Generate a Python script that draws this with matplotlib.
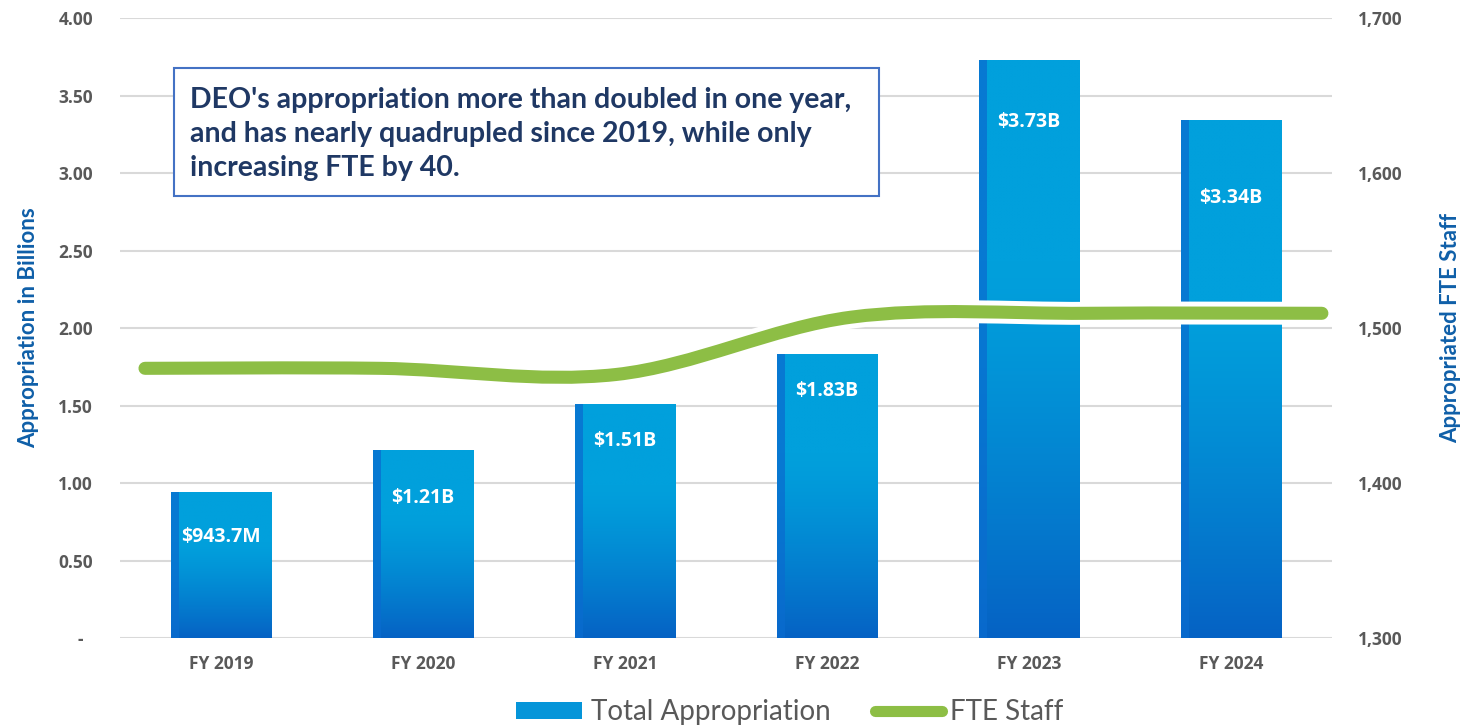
import matplotlib
matplotlib.use("Agg")
import matplotlib.pyplot as plt
import matplotlib.patheffects as pe
from matplotlib.path import Path
from matplotlib.patches import PathPatch, Patch, Rectangle
from matplotlib.lines import Line2D
from matplotlib.ticker import FuncFormatter, MultipleLocator
import numpy as np

years = ["FY 2019", "FY 2020", "FY 2021", "FY 2022", "FY 2023", "FY 2024"]
appropriation = [0.9437, 1.21, 1.51, 1.83, 3.73, 3.34]
bar_labels = ["$943.7M", "$1.21B", "$1.51B", "$1.83B", "$3.73B", "$3.34B"]
fte_staff = [1474, 1474, 1470, 1507, 1509.5, 1509.5]

GRAY = "#595959"
AXBLUE = "#0F5FA8"
GREEN = "#8DBE45"
NAVY = "#1F3864"

fig = plt.figure(figsize=(14.62, 7.27), dpi=100)
ax = fig.add_axes([0.0821, 0.1224, 0.8290, 0.8528])

X = np.arange(len(years))
width = 0.5

# gradient used to fill the bars (top light, bottom darker)
grad = np.linspace(0, 1, 256).reshape(-1, 1)
top_c = np.array([0x01, 0xA0, 0xDC]) / 255
bot_c = np.array([0x06, 0x62, 0xC4]) / 255
t = np.clip((grad - 0.35) / 0.65, 0, 1) ** 1.3
img = top_c * (1 - t)[..., None] + bot_c * t[..., None]
img = img.reshape(256, 1, 3)

bars = ax.bar(X, appropriation, width, color="none", zorder=2)
for b, v in zip(bars, appropriation):
    x0 = b.get_x()
    im = ax.imshow(img, extent=(x0, x0 + width, 0, v), aspect="auto",
                   origin="upper", zorder=2, interpolation="bilinear")
    im.set_clip_path(b)
    # darker left strip
    ax.add_patch(Rectangle((x0, 0), 0.04, v, facecolor="#0A6CCF",
                           edgecolor="none", alpha=0.75, zorder=2.1))

label_offsets = [45, 48, 37, 37, 62, 78]   # px below bar top
for xi, v, lab, off in zip(X, appropriation, bar_labels, label_offsets):
    ax.annotate(lab, (xi, v), xytext=(0, -off * 0.72), textcoords="offset points",
                ha="center", va="center", color="white", fontsize=14,
                fontweight="bold", family="Open Sans", zorder=3)

ax.set_xlim(-0.5, 5.5)
ax.set_ylim(0, 4.0)
ax.yaxis.set_major_locator(MultipleLocator(0.5))
ax.yaxis.set_major_formatter(FuncFormatter(lambda v, p: "-  " if v == 0 else f"{v:.2f}"))
ax.set_xticks(X)
ax.set_xticklabels(years)
ax.grid(axis="y", color="#D9D9D9", linewidth=1.5, zorder=0)
ax.set_axisbelow(True)
for s in ax.spines.values():
    s.set_visible(False)
ax.tick_params(axis="y", length=0, pad=19.5, labelsize=12.5, labelcolor=GRAY)
ax.tick_params(axis="x", length=0, pad=12, labelsize=12.5, labelcolor=GRAY)
for lab in ax.get_xticklabels() + ax.get_yticklabels():
    lab.set_fontweight("bold")
    lab.set_family("Open Sans")
ax.set_ylabel("Appropriation in Billions", color=AXBLUE, fontsize=16,
              fontweight="bold", family="Lato", labelpad=14)

# secondary axes for FTE (its own horizontal span, like the source chart)
ax2 = fig.add_axes(ax.get_position(), frameon=False)
ax2.patch.set_visible(False)
ax2.set_xlim(-0.106, 5.043)
ax2.set_ylim(1300, 1700)
ax2.xaxis.set_visible(False)
ax2.yaxis.tick_right()
ax2.yaxis.set_label_position("right")
ax2.yaxis.set_major_locator(MultipleLocator(100))
ax2.yaxis.set_major_formatter(FuncFormatter(lambda v, p: f"{v:,.0f}"))
ax2.tick_params(axis="y", length=0, pad=18.7, labelsize=12.5, labelcolor=GRAY)
for lab in ax2.get_yticklabels():
    lab.set_fontweight("bold")
    lab.set_family("Open Sans")
ax2.set_ylabel("Appropriated FTE Staff", color=AXBLUE, fontsize=16,
               fontweight="bold", family="Lato", labelpad=27)

# smoothed line (Catmull-Rom style bezier, like a spreadsheet "smooth line")
pts = np.column_stack([np.arange(len(fte_staff)), fte_staff]).astype(float)
ext = np.vstack([pts[0], pts, pts[-1]])
verts = [tuple(pts[0])]
codes = [Path.MOVETO]
for i in range(len(pts) - 1):
    p0, p1, p2, p3 = ext[i], ext[i + 1], ext[i + 2], ext[i + 3]
    c1 = p1 + (p2 - p0) / 6
    c2 = p2 - (p3 - p1) / 6
    verts += [tuple(c1), tuple(c2), tuple(p2)]
    codes += [Path.CURVE4] * 3
line = PathPatch(Path(verts, codes), facecolor="none", edgecolor=GREEN,
                 linewidth=9.4, capstyle="round", zorder=4,
                 path_effects=[pe.Stroke(linewidth=16.5, foreground="white"), pe.Normal()])
ax2.add_patch(line)

# annotation box
fig.text(0.13, 1 - 87 / 727,
         "DEO's appropriation more than doubled in one year,\n"
         "and has nearly quadrupled since 2019, while only\n"
         "increasing FTE by 40.",
         ha="left", va="top", fontsize=20.5, fontweight="bold", family="Lato",
         color=NAVY, linespacing=1.38)
fig.patches.append(Rectangle((174 / 1462, 1 - 196 / 727), (879 - 174) / 1462,
                             (196 - 68) / 727, transform=fig.transFigure,
                             facecolor="white", edgecolor="#4472C4", linewidth=1.5,
                             zorder=0.5))

handles = [Patch(facecolor="#0595D9", edgecolor="none"),
           Line2D([], [], color=GREEN, linewidth=8, solid_capstyle="round")]
leg = fig.legend(handles, ["Total Appropriation", "FTE Staff"], loc="center",
                 bbox_to_anchor=(0.54, 0.0206), ncol=2, frameon=False,
                 handlelength=2.4, handleheight=0.58,
                 handletextpad=0.3, columnspacing=1.6,
                 prop={"family": "Lato", "size": 20})
for txt in leg.get_texts():
    txt.set_color(GRAY)

fig.savefig("out.png", dpi=100)
